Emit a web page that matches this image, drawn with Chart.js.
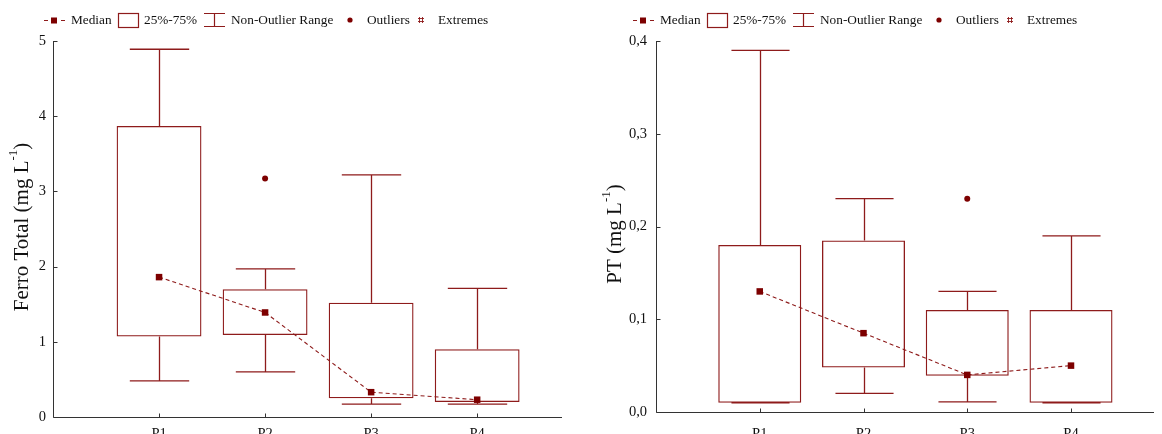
<!DOCTYPE html>
<html>
<head>
<meta charset="utf-8">
<script src="https://cdn.jsdelivr.net/npm/chart.js@4/dist/chart.umd.min.js"></script>
<style>
  html, body { margin: 0; padding: 0; background: #fff; }
  #wrap { position: relative; width: 1162px; height: 434px; overflow: hidden; }
  .pane { position: absolute; top: 0; height: 434px; }
</style>
</head>
<body>
<div id="wrap">
  <div class="pane" style="left:0;width:580px"><canvas id="c1" width="580" height="434"></canvas></div>
  <div class="pane" style="left:580px;width:582px"><canvas id="c2" width="582" height="434"></canvas></div>
</div>
<script>
// ---------- data ----------
const categories = ['P1', 'P2', 'P3', 'P4'];

// Ferro Total (mg L-1)
const feWhiskerLow  = [0.48, 0.60, 0.17, 0.17];
const feQ1          = [1.07, 1.09, 0.25, 0.20];
const feMedian      = [1.86, 1.39, 0.33, 0.23];
const feQ3          = [3.87, 1.70, 1.52, 0.90];
const feWhiskerHigh = [4.89, 1.97, 3.22, 1.71];
const feOutlierCat  = ['P2'];
const feOutlierVal  = [3.17];
const feTicks       = [0, 1, 2, 3, 4, 5];

// PT (mg L-1)
const ptWhiskerLow  = [0.010, 0.020, 0.011, 0.010];
const ptQ1          = [0.010, 0.048, 0.039, 0.010];
const ptMedian      = [0.130, 0.085, 0.040, 0.050];
const ptQ3          = [0.180, 0.185, 0.110, 0.110];
const ptWhiskerHigh = [0.390, 0.230, 0.130, 0.190];
const ptOutlierCat  = ['P3'];
const ptOutlierVal  = [0.23];
const ptTicks       = [0.0, 0.1, 0.2, 0.3, 0.4];

const legendLabels = ['Median', '25%-75%', 'Non-Outlier Range', 'Outliers', 'Extremes'];

// ---------- styles ----------
const RED = '#8e1b1b';
const DARKRED = '#7d0000';
const SERIF = "'Liberation Serif', 'Times New Roman', serif";
Chart.defaults.font.family = SERIF;
Chart.defaults.color = '#111';

function catX(c) { return categories.indexOf(c) + 1; }

const boxPlugin = {
  id: 'boxExtras',
  beforeDatasetsDraw(chart) {
    const o = chart.options.plugins.boxExtras;
    const xs = chart.scales.x, ys = chart.scales.y;
    const ctx = chart.ctx;
    ctx.save();
    ctx.strokeStyle = RED;
    ctx.lineWidth = 1.3;
    const half = o.capHalf;
    categories.forEach((c, i) => {
      const x = Math.round(xs.getPixelForValue(i + 1)) + 0.5;
      const wl = ys.getPixelForValue(o.low[i]);
      const q1 = ys.getPixelForValue(o.q1[i]);
      const q3 = ys.getPixelForValue(o.q3[i]);
      const wh = ys.getPixelForValue(o.high[i]);
      const hw = xs.getPixelForValue(i + 1 + half) - xs.getPixelForValue(i + 1);
      ctx.beginPath();
      ctx.moveTo(x, q3); ctx.lineTo(x, wh);
      ctx.moveTo(x - hw, wh); ctx.lineTo(x + hw, wh);
      ctx.moveTo(x, q1); ctx.lineTo(x, wl);
      ctx.moveTo(x - hw, wl); ctx.lineTo(x + hw, wl);
      ctx.stroke();
    });
    ctx.restore();
  },
  afterDraw(chart) {
    const o = chart.options.plugins.boxExtras;
    const ctx = chart.ctx;
    const xs = chart.scales.x, ys = chart.scales.y;
    const area = chart.chartArea;
    ctx.save();
    // axes lines
    ctx.strokeStyle = '#333';
    ctx.lineWidth = 1;
    ctx.beginPath();
    const ax = Math.round(area.left) + 0.5;
    const ay = Math.round(area.bottom) + 0.5;
    ctx.moveTo(ax, area.top); ctx.lineTo(ax, ay);
    ctx.moveTo(ax, ay); ctx.lineTo(area.right, ay);
    // inward ticks
    o.ticks.forEach(v => {
      const y = Math.round(ys.getPixelForValue(v)) + 0.5;
      ctx.moveTo(ax, y); ctx.lineTo(ax + 4, y);
    });
    categories.forEach((c, i) => {
      const x = Math.round(xs.getPixelForValue(i + 1)) + 0.5;
      ctx.moveTo(x, ay); ctx.lineTo(x, ay - 4);
    });
    ctx.stroke();

    // axis title (rotated, with superscript)
    ctx.fillStyle = '#111';
    ctx.translate(o.titleX, o.titleY);
    ctx.rotate(-Math.PI / 2);
    const mainFont = '21px ' + SERIF, supFont = '13px ' + SERIF;
    ctx.font = mainFont;
    const w1 = ctx.measureText(o.titleMain).width;
    const w3 = ctx.measureText(o.titleEnd).width;
    ctx.font = supFont;
    const w2 = ctx.measureText(o.titleSup).width;
    let sx = -(w1 + w2 + w3) / 2;
    ctx.textBaseline = 'middle';
    ctx.textAlign = 'left';
    ctx.font = mainFont;
    ctx.fillText(o.titleMain, sx, 0);
    sx += w1;
    ctx.font = supFont;
    ctx.fillText(o.titleSup, sx, -8);
    sx += w2;
    ctx.font = mainFont;
    ctx.fillText(o.titleEnd, sx, 0);
    ctx.setTransform(1, 0, 0, 1, 0, 0);

    // legend
    const x0 = o.legendX, y = 20;
    ctx.strokeStyle = RED;
    ctx.fillStyle = DARKRED;
    ctx.lineWidth = 1;
    ctx.beginPath();
    ctx.moveTo(x0, y + 0.5); ctx.lineTo(x0 + 4, y + 0.5);
    ctx.moveTo(x0 + 17, y + 0.5); ctx.lineTo(x0 + 21, y + 0.5);
    ctx.stroke();
    ctx.fillRect(x0 + 7, y - 2.5, 6, 6);
    ctx.lineWidth = 1.2;
    ctx.strokeRect(x0 + 74.5, y - 6.5, 20, 14);
    ctx.beginPath();
    ctx.moveTo(x0 + 160, y - 6.5); ctx.lineTo(x0 + 181, y - 6.5);
    ctx.moveTo(x0 + 170.5, y - 6.5); ctx.lineTo(x0 + 170.5, y + 6.5);
    ctx.moveTo(x0 + 160, y + 6.5); ctx.lineTo(x0 + 181, y + 6.5);
    ctx.stroke();
    ctx.beginPath();
    ctx.arc(x0 + 306, y, 2.6, 0, Math.PI * 2);
    ctx.fill();
    ctx.lineWidth = 0.9;
    ctx.beginPath();
    const sx0 = x0 + 377;
    ctx.moveTo(sx0 - 1.5, y - 3); ctx.lineTo(sx0 - 1.5, y + 3);
    ctx.moveTo(sx0 + 1.5, y - 3); ctx.lineTo(sx0 + 1.5, y + 3);
    ctx.moveTo(sx0 - 3, y - 1.5); ctx.lineTo(sx0 + 3, y - 1.5);
    ctx.moveTo(sx0 - 3, y + 1.5); ctx.lineTo(sx0 + 3, y + 1.5);
    ctx.stroke();
    ctx.fillStyle = '#111';
    ctx.font = '13.3px ' + SERIF;
    ctx.textBaseline = 'middle';
    ctx.textAlign = 'left';
    const tx = [27, 100, 187, 323, 394];
    legendLabels.forEach((t, i) => ctx.fillText(t, x0 + tx[i], y + 1));
    ctx.restore();
  }
};

function makeChart(id, cfg) {
  const boxData = categories.map((c, i) => ({ x: i + 1, y: [cfg.q1[i], cfg.q3[i]] }));
  const medData = categories.map((c, i) => ({ x: i + 1, y: cfg.median[i] }));
  const outData = cfg.outCat.map((c, i) => ({ x: catX(c), y: cfg.outVal[i] }));
  return new Chart(document.getElementById(id), {
    data: {
      datasets: [
        {
          type: 'bar', label: '25%-75%', data: boxData,
          backgroundColor: 'rgba(255,255,255,0)', borderColor: RED,
          borderWidth: 1.3, borderSkipped: false,
          barPercentage: 0.8, categoryPercentage: 1.0, grouped: false, order: 3
        },
        {
          type: 'line', label: 'Median', data: medData,
          borderColor: RED, borderWidth: 1.1, borderDash: [4, 3],
          pointStyle: 'rect', pointRadius: 4.6, pointBackgroundColor: DARKRED,
          pointBorderColor: DARKRED, pointBorderWidth: 0, tension: 0, order: 1
        },
        {
          type: 'scatter', label: 'Outliers', data: outData,
          pointStyle: 'circle', pointRadius: 3, backgroundColor: DARKRED,
          borderColor: DARKRED, borderWidth: 0, order: 2
        }
      ]
    },
    options: {
      responsive: false,
      animation: false,
      events: [],
      layout: { padding: { top: cfg.top, right: cfg.padRight, left: 0, bottom: 0 } },
      plugins: {
        legend: { display: false },
        tooltip: { enabled: false },
        boxExtras: {
          low: cfg.low, q1: cfg.q1, q3: cfg.q3, high: cfg.high,
          capHalf: 0.28, ticks: cfg.ticks,
          titleX: cfg.titleX, titleY: cfg.titleY,
          titleMain: cfg.titleMain, titleSup: '-1', titleEnd: ')',
          legendX: cfg.legendX
        }
      },
      scales: {
        x: {
          type: 'linear', min: 0, max: 4.8, offset: false,
          afterBuildTicks(s) { s.ticks = categories.map((c, i) => ({ value: i + 1 })); },
          afterFit(s) { s.height = cfg.xHeight; },
          grid: { display: false, drawTicks: false, offset: false },
          border: { display: false },
          ticks: {
            font: { size: 14.5, family: SERIF }, color: '#111', padding: cfg.xPad,
            autoSkip: false, maxRotation: 0,
            callback: (v) => categories[Math.round(v) - 1] || ''
          }
        },
        y: {
          type: 'linear', min: cfg.ticks[0], max: cfg.ticks[cfg.ticks.length - 1],
          afterBuildTicks(s) { s.ticks = cfg.ticks.map(v => ({ value: v })); },
          afterFit(s) { s.width = cfg.yWidth; },
          grid: { display: false, drawTicks: false },
          border: { display: false },
          ticks: {
            font: { size: 14.5, family: SERIF }, color: '#111', padding: cfg.yPad,
            callback: cfg.fmt
          }
        }
      }
    },
    plugins: [boxPlugin]
  });
}

makeChart('c1', {
  q1: feQ1, q3: feQ3, median: feMedian, low: feWhiskerLow, high: feWhiskerHigh,
  outCat: feOutlierCat, outVal: feOutlierVal, ticks: feTicks,
  fmt: (v) => String(Math.round(v)),
  top: 41, padRight: 18, xHeight: 17, yWidth: 53, xPad: 8, yPad: 7,
  titleX: 22, titleY: 227, titleMain: 'Ferro Total (mg L', legendX: 44
});

makeChart('c2', {
  q1: ptQ1, q3: ptQ3, median: ptMedian, low: ptWhiskerLow, high: ptWhiskerHigh,
  outCat: ptOutlierCat, outVal: ptOutlierVal, ticks: ptTicks,
  fmt: (v) => v.toFixed(1).replace('.', ','),
  top: 41, padRight: 8, xHeight: 22, yWidth: 76, xPad: 13, yPad: 9,
  titleX: 35, titleY: 234, titleMain: 'PT (mg L', legendX: 53
});
</script>
</body>
</html>
